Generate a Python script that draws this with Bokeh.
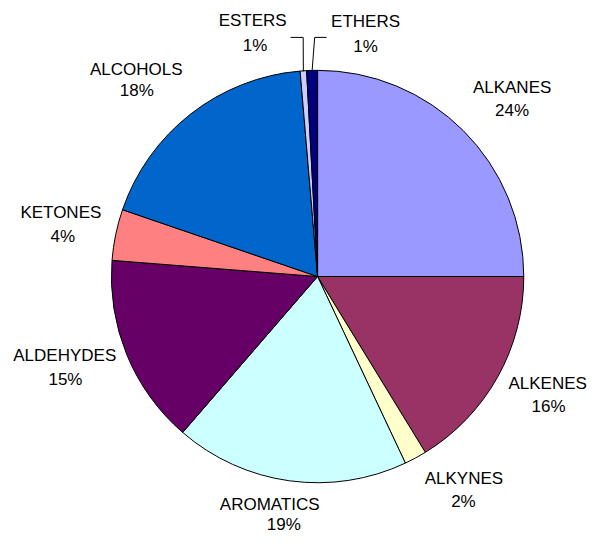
import numpy as np
from bokeh.plotting import figure
from bokeh.models import Range1d, ColumnDataSource
from bokeh.core.properties import value
from bokeh.embed import file_html
from bokeh.resources import INLINE

# ---- data ----
categories = ["ALKANES", "ALKENES", "ALKYNES", "AROMATICS", "ALDEHYDES",
              "KETONES", "ALCOHOLS", "ESTERS", "ETHERS"]
shares = [25.0, 16.25, 1.75, 18.35, 14.9, 4.0, 18.4, 0.5, 0.85]
pct_labels = ["24%", "16%", "2%", "19%", "15%", "4%", "18%", "1%", "1%"]
colors = ["#9999FF", "#993366", "#FFFFCC", "#CCFFFF", "#660066",
          "#FF8080", "#0066CC", "#CCCCFF", "#000080"]

# ---- layout (reference pixels relative to pie centre, y downward) ----
RADIUS = 211.8
name_pos = [(199.8, -194.3), (236.3, 110.2), (150.3, 208.2), (-49.2, 235.2),
            (-259.7, 81.2), (-263.7, -66.3), (-186.2, -213.3), (-66.7, -263.3),
            (49.3, -262.8)]
pct_pos = [(199.8, -170.8), (237.3, 133.7), (149.8, 231.7), (-34.7, 255.7),
           (-259.0, 105.7), (-261.7, -41.3), (-185.7, -191.3), (-64.2, -238.3),
           (49.3, -236.8)]
leader_idx = [7, 8]
leader_elbow = [(-14.8, -246.3), (-3.0, -246.3)]
leader_end = [(-27.7, -246.3), (9.3, -246.3)]

REF_W, REF_H = 605, 550          # reference canvas
CX, CY = 325.7, 284.3            # pie centre in the reference canvas
W, H = 589, 534                  # figure size that fits the window

p = figure(width=W, height=H, output_backend="svg", toolbar_location=None,
           x_range=Range1d(-CX, REF_W - CX), y_range=Range1d(-(REF_H - CY), CY),
           min_border=0, outline_line_color=None,
           x_axis_type=None, y_axis_type=None)
p.grid.visible = False
p.background_fill_color = "white"
p.border_fill_color = "white"

vals = np.array(shares, dtype=float)
frac = vals / vals.sum()
cum = np.concatenate([[0.0], np.cumsum(frac)]) * 2 * np.pi
theta_start = cum[:-1]
theta_end = cum[1:]
theta_mid = (theta_start + theta_end) / 2
# clockwise from 12 o'clock -> bokeh angles
start_angle = np.pi / 2 - theta_end
end_angle = np.pi / 2 - theta_start

src = ColumnDataSource(dict(start=start_angle, end=end_angle, color=colors,
                            cat=categories))
p.wedge(x=0, y=0, radius=RADIUS, start_angle="start", end_angle="end",
        fill_color="color", line_color="black", line_width=1, source=src)

font = value("Liberation Sans")
fs = value("17px")
p.text(x=[q[0] for q in name_pos], y=[-q[1] for q in name_pos], text=categories,
       text_font=font, text_font_size=fs, text_align="center",
       text_baseline="middle", text_color="black")
p.text(x=[q[0] for q in pct_pos], y=[-q[1] for q in pct_pos], text=pct_labels,
       text_font=font, text_font_size=fs, text_align="center",
       text_baseline="middle", text_color="black")

xs, ys = [], []
for k, i in enumerate(leader_idx):
    x0 = RADIUS * np.sin(theta_mid[i])
    y0 = RADIUS * np.cos(theta_mid[i])
    xs.append([x0, leader_elbow[k][0], leader_end[k][0]])
    ys.append([y0, -leader_elbow[k][1], -leader_end[k][1]])
p.multi_line(xs=xs, ys=ys, line_color="black", line_width=1)

open("out.html", "w").write(file_html(p, INLINE))
